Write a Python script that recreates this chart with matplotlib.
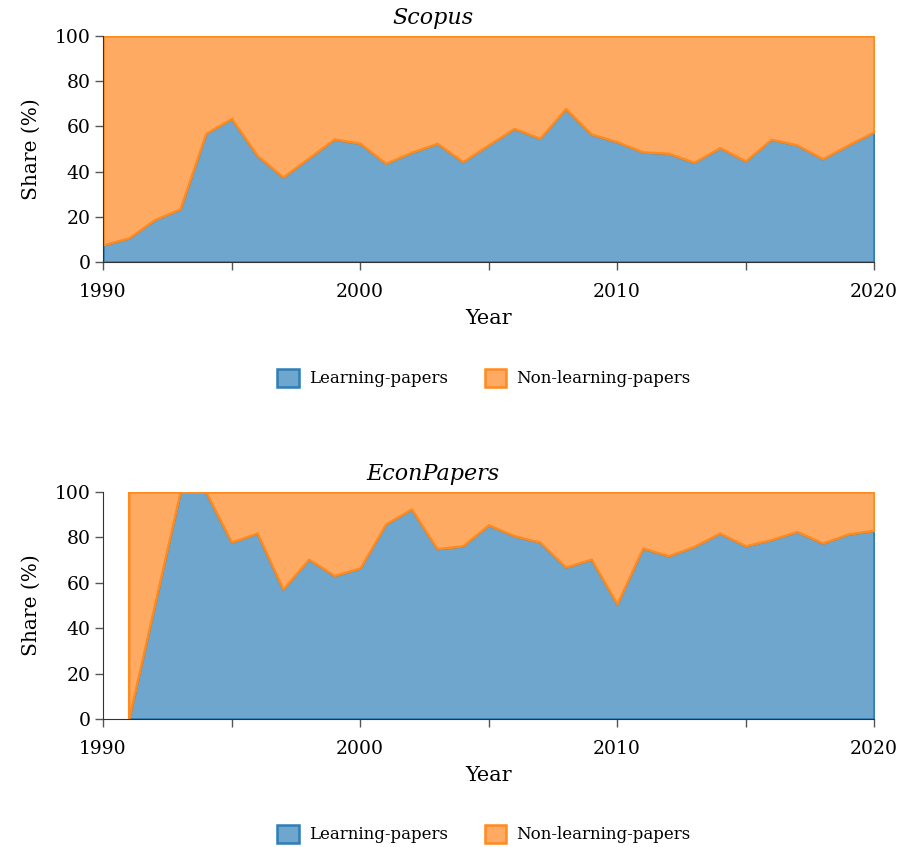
import numpy as np
import matplotlib.pyplot as plt
from matplotlib.patches import Patch

# Données (part des papiers "learning", en %)
years_scopus = list(range(1990, 2021))
learning_scopus = [7.6, 10.6, 18.7, 23.5, 56.9, 63.5, 47.1, 37.6, 46.0, 54.4,
                   52.5, 43.7, 48.5, 52.5, 44.4, 51.8, 59.1, 54.7, 67.9, 56.6,
                   53.2, 48.7, 48.1, 44.1, 50.6, 44.7, 54.3, 51.8, 45.7, 51.8,
                   57.6]

years_econ = list(range(1991, 2021))
learning_econ = [0.0, 50.0, 100.0, 100.0, 77.9, 81.9, 57.2, 70.4, 63.2, 66.5,
                 85.9, 92.5, 75.0, 76.3, 85.5, 80.7, 77.9, 66.9, 70.4, 50.7,
                 75.3, 71.9, 76.0, 81.9, 76.3, 79.0, 82.6, 77.5, 81.5, 83.1]

titles = ["Scopus", "EconPapers"]
legend_labels = ["Learning-papers", "Non-learning-papers"]

blue_fill, blue_edge = "#6fa6ce", "#2c7fb8"
orange_fill, orange_edge = "#ffaa62", "#ff8a1e"

plt.rcParams['font.family'] = ['DejaVu Serif']

fig = plt.figure(figsize=(9, 8.47), dpi=100)
W, H = 900, 847

# Positions des axes en pixels (gauche, haut, droite, bas)
boxes = [(103, 36, 874, 262), (103, 492, 874, 719)]
data = [(years_scopus, learning_scopus), (years_econ, learning_econ)]
legend_y = [378, 834]
title_y = [18, 474]

for i in range(2):
    l, t, r, b = boxes[i]
    ax = fig.add_axes([l / W, 1 - b / H, (r - l) / W, (b - t) / H])
    x = np.array(data[i][0])
    y = np.array(data[i][1])

    ax.fill_between(x, 0, y, facecolor=blue_fill, edgecolor=blue_edge, linewidth=1.8)
    ax.fill_between(x, y, 100, facecolor=orange_fill, edgecolor=orange_edge, linewidth=1.8)

    ax.set_xlim(1990, 2020)
    ax.set_ylim(0, 100)
    ax.set_xticks([1990, 2000, 2010, 2020])
    ax.set_xticks([1995, 2005, 2015], minor=True)
    ax.set_yticks([0, 20, 40, 60, 80, 100])
    ax.tick_params(axis='both', labelsize=13.5, color='#555555', length=6, width=1)
    ax.tick_params(axis='x', which='minor', length=6, color='#555555', width=1)
    ax.tick_params(axis='x', pad=9)
    ax.tick_params(axis='y', pad=3)
    for s in ['top', 'right']:
        ax.spines[s].set_visible(False)
    for s in ['left', 'bottom']:
        ax.spines[s].set_color('#333333')
    ax.set_xlabel("Year", fontsize=15, labelpad=6)
    ax.set_ylabel("Share (%)", fontsize=14.5, labelpad=10)

    fig.text(433 / W, 1 - title_y[i] / H, titles[i], fontsize=16, style='italic',
             ha='center', va='center')

    handles = [Patch(facecolor=blue_fill, edgecolor=blue_edge, linewidth=1.8),
               Patch(facecolor=orange_fill, edgecolor=orange_edge, linewidth=1.8)]
    fig.legend(handles, legend_labels, loc='center', ncol=2, frameon=False,
               bbox_to_anchor=(484 / W, 1 - legend_y[i] / H), fontsize=12,
               handlelength=1.3, handleheight=1.3, handletextpad=0.6,
               columnspacing=2.2)

fig.savefig("out.png", dpi=100)
